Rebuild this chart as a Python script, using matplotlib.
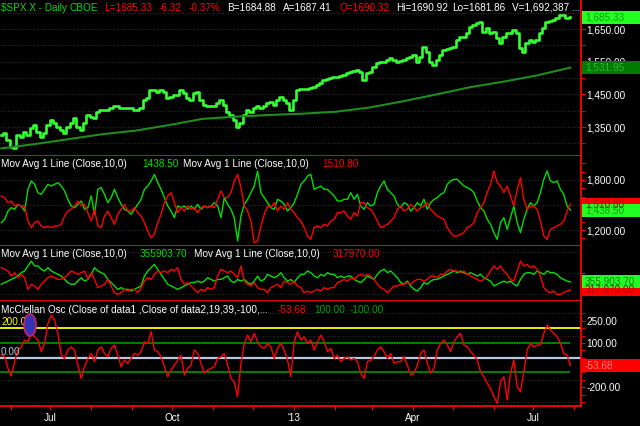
import numpy as np
import pandas as pd
import matplotlib
matplotlib.use('Agg')
import matplotlib.pyplot as plt
import matplotlib.dates as mdates
from matplotlib.patches import Rectangle, Ellipse
from matplotlib.ticker import FixedLocator, FuncFormatter

plt.rcParams['font.family'] = ['Liberation Sans', 'DejaVu Sans']

# ---- data (May 25 2012 .. Jul 29 2013) ----
first_day = '2012-05-25'
last_day = '2013-07-29'

spx_close = [
    1326, 1331, 1311, 1290, 1285, 1326, 1321, 1336, 1326, 1346,
    1357, 1336, 1321, 1331, 1357, 1372, 1362, 1351, 1341, 1331,
    1351, 1362, 1377, 1351, 1341, 1362, 1387, 1382, 1377, 1397,
    1402, 1402, 1402, 1407, 1415, 1413, 1407, 1407, 1407, 1407,
    1402, 1402, 1407, 1433, 1438, 1464, 1464, 1458, 1464, 1458,
    1438, 1443, 1448, 1448, 1464, 1453, 1438, 1433, 1453, 1458,
    1433, 1418, 1413, 1415, 1413, 1423, 1433, 1418, 1397, 1387,
    1372, 1350, 1362, 1387, 1402, 1397, 1407, 1413, 1407, 1413,
    1423, 1428, 1418, 1433, 1443, 1433, 1423,
    1402, 1433, 1464, 1465, 1466, 1467, 1469, 1474, 1479, 1486,
    1494, 1497, 1499, 1502, 1504, 1506, 1509, 1515, 1520, 1522,
    1525, 1520, 1494, 1515, 1520, 1535, 1545, 1548, 1550, 1555,
    1560, 1555, 1550, 1552, 1555, 1560, 1565, 1571, 1550, 1565,
    1596, 1581, 1550, 1540, 1555, 1571, 1586, 1588, 1591, 1596,
    1616, 1627, 1627, 1637, 1657, 1662, 1667, 1672, 1642, 1652,
    1637, 1642, 1621, 1606, 1627, 1637, 1637, 1647, 1637, 1591,
    1581, 1606, 1616, 1611, 1616, 1637, 1652, 1672, 1675, 1678,
    1683, 1693, 1693, 1683, 1685.33,
]
spx_ma200 = [1285, 1298, 1313, 1328, 1339, 1356, 1375, 1382, 1387, 1391,
             1397, 1410, 1429, 1450, 1472, 1489, 1508, 1531.95]

ma_green = [
    1288, 1328, 1428, 1468, 1448, 1508, 1488, 1428, 1688, 1788,
    1748, 1648, 1628, 1688, 1748, 1728, 1748, 1768, 1728, 1668,
    1568, 1488, 1468, 1508, 1548, 1448, 1468, 1608, 1388, 1688,
    1708, 1628, 1528, 1588, 1688, 1588, 1508, 1448, 1428, 1388,
    1448, 1508, 1568, 1688, 1728, 1788, 1868, 1768, 1688, 1588,
    1488, 1428, 1348, 1488, 1468, 1488, 1448, 1488, 1448, 1508,
    1448, 1488, 1468, 1488, 1528, 1488, 1348, 1588, 1508, 1448,
    1348, 1068, 1368, 1508, 1568, 1648, 1728, 1908, 1648, 1588,
    1528, 1468, 1448, 1568, 1548, 1508, 1428,
    1468, 1528, 1628, 1748, 1788, 1848, 1868, 1688, 1708, 1728,
    1688, 1688, 1648, 1608, 1548, 1548, 1568, 1568, 1648, 1568,
    1628, 1488, 1448, 1528, 1488, 1508, 1648, 1728, 1788, 1688,
    1648, 1608, 1508, 1468, 1528, 1508, 1428, 1468, 1528, 1488,
    1568, 1448, 1528, 1568, 1588, 1628, 1648, 1748, 1788, 1808,
    1808, 1768, 1728, 1708, 1688, 1648, 1548, 1468, 1428, 1328,
    1268, 1168, 1088, 1288, 1348, 1208, 1348, 1488, 1288, 1168,
    1328, 1448, 1528, 1488, 1528, 1648, 1808, 1908, 1788, 1768,
    1788, 1688, 1628, 1488, 1438.50,
]
ma_red = [
    1608, 1588, 1528, 1548, 1488, 1508, 1488, 1488, 1308, 1228,
    1288, 1308, 1248, 1228, 1248, 1228, 1248, 1248, 1268, 1368,
    1428, 1448, 1488, 1548, 1488, 1508, 1408, 1308, 1448, 1248,
    1228, 1368, 1428, 1348, 1268, 1388, 1448, 1508, 1428, 1428,
    1468, 1408, 1368, 1288, 1188, 1108, 1148, 1288, 1388, 1528,
    1608, 1648, 1528, 1408, 1468, 1428, 1488, 1448, 1468, 1408,
    1468, 1488, 1468, 1488, 1468, 1568, 1668, 1588, 1588, 1648,
    1788, 1868, 1708, 1488, 1428, 1308, 1048, 1068, 1248, 1388,
    1488, 1468, 1528, 1428, 1488, 1448, 1528,
    1448, 1408, 1348, 1308, 1228, 1128, 1088, 1228, 1248, 1228,
    1268, 1248, 1308, 1328, 1408, 1408, 1428, 1368, 1328, 1408,
    1368, 1528, 1528, 1468, 1448, 1388, 1308, 1228, 1248, 1268,
    1308, 1348, 1448, 1488, 1428, 1448, 1508, 1468, 1428, 1468,
    1488, 1528, 1448, 1408, 1368, 1348, 1328, 1228, 1168, 1128,
    1128, 1148, 1168, 1228, 1248, 1288, 1408, 1468, 1528, 1648,
    1748, 1908, 1768, 1728, 1648, 1728, 1608, 1488, 1688, 1828,
    1568, 1448, 1488, 1488, 1448, 1308, 1128, 1088, 1208, 1228,
    1248, 1268, 1308, 1428, 1510.80,
]

# second moving-average pair, in thousands
vol_green_k = [
    345, 353, 360, 368, 376, 384, 400, 408, 432, 455,
    432, 432, 416, 408, 424, 408, 400, 392, 384, 368,
    353, 345, 345, 360, 376, 360, 368, 392, 424, 408,
    400, 392, 368, 353, 337, 321, 329, 321, 321, 313,
    321, 329, 337, 384, 408, 424, 439, 416, 392, 368,
    345, 337, 329, 321, 329, 337, 345, 353, 353, 360,
    353, 360, 376, 368, 360, 368, 368, 376, 384, 360,
    353, 368, 360, 368, 353, 345, 360, 384, 360, 368,
    392, 384, 376, 384, 400, 376, 360,
    368, 353, 376, 392, 392, 408, 400, 384, 376, 392,
    384, 400, 392, 392, 376, 384, 376, 384, 384, 368,
    360, 353, 368, 384, 376, 368, 392, 408, 416, 400,
    408, 392, 376, 353, 345, 360, 337, 321, 313, 329,
    353, 345, 360, 368, 368, 376, 384, 392, 400, 408,
    400, 408, 400, 392, 400, 392, 384, 392, 376, 368,
    360, 337, 345, 353, 360, 353, 360, 345, 337, 368,
    392, 400, 400, 392, 408, 400, 392, 408, 400, 400,
    392, 376, 368, 360, 355.9037,
]
vol_red_k = [
    424, 416, 408, 384, 400, 376, 392, 376, 321, 345,
    337, 321, 345, 360, 376, 384, 376, 368, 368, 376,
    392, 408, 400, 392, 400, 408, 368, 400, 368, 329,
    337, 345, 368, 337, 305, 297, 305, 321, 313, 321,
    321, 305, 329, 360, 376, 368, 392, 408, 400, 408,
    400, 416, 408, 424, 368, 345, 353, 337, 321, 305,
    321, 313, 329, 321, 329, 384, 416, 408, 400, 408,
    392, 376, 432, 360, 345, 337, 353, 329, 321, 321,
    305, 329, 337, 345, 329, 360, 353,
    345, 360, 337, 329, 305, 313, 305, 313, 321, 313,
    329, 321, 329, 329, 353, 360, 368, 360, 376, 368,
    384, 392, 384, 392, 384, 368, 345, 329, 321, 305,
    321, 337, 337, 345, 345, 353, 345, 360, 368, 368,
    360, 368, 384, 384, 376, 392, 392, 408, 416, 408,
    408, 400, 408, 392, 384, 376, 368, 360, 368, 384,
    408, 432, 416, 432, 408, 392, 368, 360, 408, 455,
    432, 439, 424, 432, 416, 384, 329, 313, 305, 313,
    297, 297, 305, 313, 317.97,
]

mcclellan = [
    18, 7, -72, -124, -27, 52, 74, 120, 108, 165,
    142, 120, 41, 97, 232, 289, 255, 165, 18, -5,
    52, 74, 52, -50, -140, -61, -5, 29, -27, 52,
    74, 29, 7, 63, 86, 18, -61, -16, -38, -5,
    29, 18, 41, 108, 97, 176, 52, 41, 7, -61,
    -129, -84, -50, -16, 18, -117, -72, -50, 52, 29,
    -38, -106, -84, -72, -61, -5, 7, 29, -50, -140,
    -163, -264, -38, 97, 153, 108, 165, 108, 74, 63,
    97, 74, -5, 63, 97, 52, -16,
    -129, 108, 176, 120, 142, 97, 120, 52, 108, 153,
    108, 41, 63, -5, 18, -27, -5, 7, -16, -5,
    -27, -106, -140, -27, -16, 7, 52, 74, 41, -5,
    29, -38, -27, -27, 7, -50, -117, -106, -50, 29,
    52, -38, -106, -72, 52, 97, 120, 86, 41, 108,
    142, 165, 86, 74, 41, 18, -16, -95, -129, -174,
    -208, -264, -309, -163, -129, -287, -106, -16, -196, -230,
    -95, 52, 97, 74, 86, 86, 165, 221, 187, 165,
    142, 97, 29, 18, -53.68,
]
osc_levels = {'upper': 200, 'band_hi': 100, 'zero': 0, 'band_lo': -100}

# ---- layout (pixels of a 640x426 canvas) ----
W, H = 640, 426
FS = 7.2
RED = '#ff0000'
LIME = '#33ff33'
GREEN = '#00dd00'
WHITE = '#ffffff'

fig = plt.figure(figsize=(W / 100, H / 100), dpi=100, facecolor='black')


def panel(top, bottom):
    ax = fig.add_axes([0, 1 - bottom / H, 581 / W, (bottom - top) / H])
    ax.set_facecolor('black')
    for s in ['top', 'left']:
        ax.spines[s].set_visible(False)
    for s in ['bottom', 'right']:
        ax.spines[s].set_color(RED)
        ax.spines[s].set_linewidth(1.3)
    ax.yaxis.tick_right()
    ax.tick_params(axis='y', which='both', direction='out', colors=RED,
                   labelcolor=WHITE, labelsize=FS, pad=1, length=3)
    ax.tick_params(axis='x', which='both', bottom=False, labelbottom=False)
    return ax


def dates_for(series):
    a = mdates.date2num(pd.Timestamp(first_day))
    b = mdates.date2num(pd.Timestamp(last_day))
    return np.linspace(a, b, len(series))


def grid(ax, levels):
    for lv in levels:
        ax.axhline(lv, color='#3c3c3c', lw=0.6, ls=(0, (1, 2)), zorder=0)


def value_box(ax, val, text, fc, tc):
    _, yf = fig.transFigure.inverted().transform(ax.transData.transform((0, val)))
    h = 13 / H
    fig.add_artist(Rectangle((582 / W, yf - h / 2), 58 / W, h,
                             transform=fig.transFigure, fc=fc, ec='none', zorder=5))
    fig.text(585 / W, yf, text, color=tc, fontsize=FS, va='center', ha='left', zorder=6)


def header(ypx, parts):
    for xpx, s, c in parts:
        fig.text(xpx / W, 1 - ypx / H, s, color=c, fontsize=FS, va='center', ha='left')


def fmt_hide(hidden):
    return FuncFormatter(lambda v, p: '' if v in hidden else f'{v:,.2f}')


xlim = (mdates.date2num(pd.Timestamp('2012-05-24')),
        mdates.date2num(pd.Timestamp('2013-08-06')))

# ---- panel 1: price ----
ax1 = panel(0, 156)
ax1.plot(dates_for(spx_close), spx_close, color=LIME, lw=1.9, drawstyle='steps-mid')
ax1.plot(dates_for(spx_ma200), spx_ma200, color='#1e8c1e', lw=1.5)
ax1.set_ylim(1261.6, 1738.7)
ax1.yaxis.set_major_locator(FixedLocator([1350, 1450, 1550, 1650]))
ax1.yaxis.set_minor_locator(FixedLocator([1300, 1400, 1500, 1600, 1700]))
ax1.yaxis.set_major_formatter(fmt_hide([]))
grid(ax1, [1300, 1350, 1400, 1450, 1500, 1550, 1600, 1650, 1700])

# ---- panel 2 ----
ax2 = panel(156, 246)
ax2.plot(dates_for(ma_green), ma_green, color=GREEN, lw=1.0)
ax2.plot(dates_for(ma_red), ma_red, color=RED, lw=1.0)
ax2.set_ylim(1008, 2088)
ax2.yaxis.set_major_locator(FixedLocator([1200, 1500, 1800]))
ax2.yaxis.set_minor_locator(FixedLocator([1100, 1300, 1400, 1600, 1700, 1900, 2000]))
ax2.yaxis.set_major_formatter(fmt_hide([1500]))  # sits under the value boxes
grid(ax2, [1200, 1500, 1800])

# ---- panel 3 ----
ax3 = panel(246, 301)
ax3.plot(dates_for(vol_green_k), np.array(vol_green_k) * 1000, color=GREEN, lw=1.0)
ax3.plot(dates_for(vol_red_k), np.array(vol_red_k) * 1000, color=RED, lw=1.0)
ax3.set_ylim(265700, 526400)
ax3.yaxis.set_major_locator(FixedLocator([400000]))
ax3.yaxis.set_major_formatter(FuncFormatter(lambda v, p: ''))
grid(ax3, [300000, 400000, 500000])

# ---- panel 4: McClellan ----
ax4 = panel(301, 406)
xd = dates_for(mcclellan)
ax4.axhline(osc_levels['upper'], color='#ffff00', lw=1.3)
ax4.axhline(osc_levels['zero'], color='#b8c8e0', lw=1.6)
ax4.hlines([osc_levels['band_hi'], osc_levels['band_lo']], xlim[0], xd[-1],
           color='#008a00', lw=1.3)
ax4.plot(xd, mcclellan, color=RED, lw=1.0, zorder=4)
ax4.set_ylim(-327, 384)
ax4.yaxis.set_major_locator(FixedLocator([250, 100, -50, -200]))
ax4.yaxis.set_minor_locator(FixedLocator([300, 200, 150, 50, 0, -100, -150, -250, -300]))
ax4.yaxis.set_major_formatter(fmt_hide([-50]))  # sits under the value box
grid(ax4, [300, 150, -150, -300])

months = pd.date_range('2012-06-01', '2013-08-01', freq='MS')
month_lbl = {7: 'Jul', 10: 'Oct', 1: "'13", 4: 'Apr'}
ax4.xaxis.set_major_locator(FixedLocator(mdates.date2num(months)))
ax4.set_xticklabels([month_lbl.get(m.month, '') for m in months])
ax4.tick_params(axis='x', which='major', bottom=True, labelbottom=True, direction='out',
                length=3, color=RED, labelcolor=WHITE, labelsize=FS, pad=2)

for ax in (ax1, ax2, ax3, ax4):
    ax.set_xlim(*xlim)

# ---- headers ----
header(8, [(1, '$SPX.X - Daily', GREEN), (70, 'CBOE', GREEN),
           (104, 'L=1685.33', RED), (159, '-6.32', RED), (189, '-0.37%', RED),
           (227, 'B=1684.88', WHITE), (283, 'A=1687.41', WHITE),
           (339, 'O=1690.32', RED), (396, 'Hi=1690.92', WHITE),
           (452, 'Lo=1681.86', WHITE), (512, 'V=1,692,387 ...', WHITE)])
header(164, [(1, 'Mov Avg 1 Line (Close,10,0)', WHITE), (142, '1438.50', GREEN),
             (183, 'Mov Avg 1 Line (Close,10,0)', WHITE), (322, '1510.80', RED)])
header(254, [(1, 'Mov Avg 1 Line (Close,10,0)', WHITE), (140, '355903.70', GREEN),
             (194, 'Mov Avg 1 Line (Close,10,0)', WHITE), (333, '317970.00', RED)])
header(310, [(1, 'McClellan Osc (Close of data1 ,Close of data2,19,39,-100,...', WHITE),
             (278, '-53.68', RED), (314, '100.00', '#00a000'), (350, '-100.00', '#00a000')])
header(322, [(1, '200.00', '#ffff00')])
header(352, [(1, '0.00', '#b8c8e0')])

fig.add_artist(Ellipse((30 / W, 1 - 325 / H), 12 / W, 22 / H, transform=fig.transFigure,
                       fc='#3434b8', ec='#d0206a', lw=1.2, zorder=6))

# ---- last-value boxes on the right scale ----
value_box(ax1, spx_close[-1], f'{spx_close[-1]:,.2f}', '#22ff22', '#119911')
value_box(ax1, spx_ma200[-1], f'{spx_ma200[-1]:,.2f}', '#007a00', '#33bb33')
value_box(ax2, ma_red[-1], f'{ma_red[-1]:,.2f}', RED, '#aa0000')
value_box(ax2, ma_green[-1], f'{ma_green[-1]:,.2f}', '#22ff22', '#119911')
value_box(ax3, vol_red_k[-1] * 1000, f'{vol_red_k[-1] * 1000:,.2f}', RED, '#aa0000')
value_box(ax3, vol_green_k[-1] * 1000, f'{vol_green_k[-1] * 1000:,.2f}', '#22ff22', '#117711')
value_box(ax4, mcclellan[-1], f'{mcclellan[-1]:,.2f}', RED, '#ff8080')

fig.savefig('out.png', dpi=100, facecolor='black')
